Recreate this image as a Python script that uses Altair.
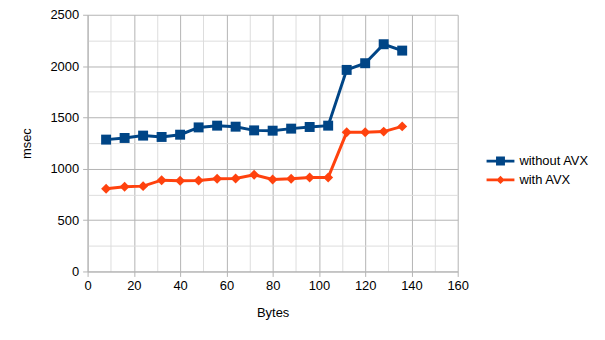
import altair as alt
import pandas as pd

x_bytes = [8, 16, 24, 32, 40, 48, 56, 64, 72, 80, 88, 96, 104, 112, 120, 128, 136]
without_avx = [1284, 1300, 1323, 1310, 1332, 1403, 1420, 1410, 1374, 1371, 1391, 1407, 1420, 1963, 2028, 2213, 2151]
with_avx = [805, 825, 831, 889, 883, 886, 903, 905, 941, 896, 903, 915, 915, 1355, 1355, 1362, 1413]
series = ["without AVX", "with AVX"]
colors = ["#004586", "#ff420e"]

rows = []
for x, v in zip(x_bytes, without_avx):
    rows.append({"Bytes": x, "msec": v, "series": series[0]})
for x, v in zip(x_bytes, with_avx):
    rows.append({"Bytes": x, "msec": v, "series": series[1]})
df = pd.DataFrame(rows)

FONT = "Liberation Sans"
GRID_MAJ = "#b3b3b3"
GRID_MIN = "#dddddd"

x_axis = alt.Axis(
    values=list(range(0, 161, 10)),
    labelExpr="datum.value % 20 === 0 ? datum.label : ''",
    gridColor={"condition": {"test": "datum.value % 20 === 0", "value": GRID_MAJ}, "value": GRID_MIN},
    tickOpacity={"condition": {"test": "datum.value % 20 === 0", "value": 1}, "value": 0},
    tickColor=GRID_MAJ, domainColor=GRID_MAJ, tickSize=5, labelPadding=3,
    labelFlush=False, labelOverlap=False,
    labelFont=FONT, labelFontSize=13, labelColor="#000",
    title="Bytes", titleFont=FONT, titleFontSize=13, titleFontWeight="normal",
    titleColor="#000", titlePadding=14,
)
y_axis = alt.Axis(
    values=list(range(0, 2501, 250)),
    labelExpr="datum.value % 500 === 0 ? datum.label : ''",
    format="d",
    gridColor={"condition": {"test": "datum.value % 500 === 0", "value": GRID_MAJ}, "value": GRID_MIN},
    tickOpacity={"condition": {"test": "datum.value % 500 === 0", "value": 1}, "value": 0},
    tickColor=GRID_MAJ, domainColor=GRID_MAJ, tickSize=5, labelPadding=4,
    labelFlush=False, labelOverlap=False,
    labelFont=FONT, labelFontSize=13, labelColor="#000",
    title="msec", titleFont=FONT, titleFontSize=13, titleFontWeight="normal",
    titleColor="#000", titlePadding=16,
)

xenc = alt.X("Bytes:Q", scale=alt.Scale(domain=[0, 160], nice=False), axis=x_axis)
yenc = alt.Y("msec:Q", scale=alt.Scale(domain=[0, 2500], nice=False), axis=y_axis)
cscale = alt.Scale(domain=series, range=colors)

lines = alt.Chart(df).mark_line(strokeWidth=3).encode(
    x=xenc, y=yenc,
    color=alt.Color("series:N", scale=cscale, legend=None),
    detail="series:N",
)
points = alt.Chart(df).mark_point(filled=True, size=100, opacity=1).encode(
    x=xenc, y=yenc,
    color=alt.Color("series:N", scale=cscale, legend=None),
    shape=alt.Shape("series:N", scale=alt.Scale(domain=series, range=["square", "diamond"]), legend=None),
)

legend_paths = [
    "M-2,-0.2H2V0.2H-2Z M-0.64,-0.64H0.64V0.64H-0.64Z",
    "M-2,-0.2H2V0.2H-2Z M0,-0.6L0.6,0L0,0.6L-0.6,0Z",
]
leg = alt.Legend(
    orient="none", legendX=408, legendY=140, title=None, padding=0,
    labelFont=FONT, labelFontSize=13, labelColor="#000", labelOffset=12,
    symbolSize=196, rowPadding=5, symbolStrokeWidth=0,
)
legend_layer = alt.Chart(df).transform_filter("false").mark_point(filled=True, opacity=1).encode(
    x=xenc, y=yenc,
    color=alt.Color("series:N", scale=alt.Scale(domain=series, range=colors), legend=leg),
    shape=alt.Shape("series:N", scale=alt.Scale(domain=series, range=legend_paths), legend=leg),
)

chart = alt.layer(lines, points, legend_layer).resolve_scale(
    color="independent", shape="independent"
).properties(
    width=372, height=258,
    autosize=alt.AutoSizeParams(type="none"),
    padding={"left": 80, "top": 6, "right": 140, "bottom": 50},
).configure_view(stroke=None)

chart.save("out.html", embed_options={"renderer": "svg", "actions": False})
